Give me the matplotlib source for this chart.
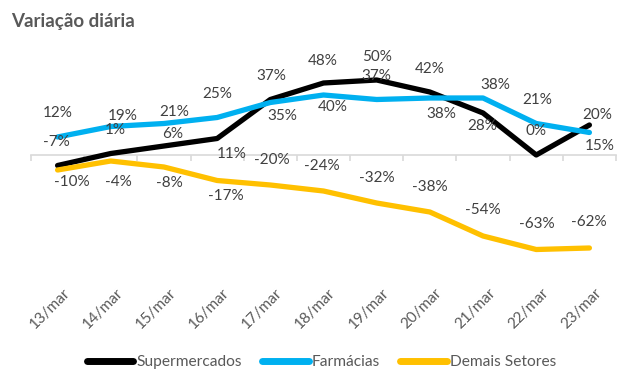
import matplotlib
matplotlib.use("Agg")
import matplotlib.pyplot as plt
import matplotlib.transforms as mtransforms
import numpy as np

plt.rcParams['font.family'] = ['Lato', 'DejaVu Sans']

dates = ["13/mar", "14/mar", "15/mar", "16/mar", "17/mar", "18/mar",
         "19/mar", "20/mar", "21/mar", "22/mar", "23/mar"]
supermercados = [-7, 1, 6, 11, 37, 48, 50, 42, 28, 0, 20]
farmacias = [12, 19, 21, 25, 35, 40, 37, 38, 38, 21, 15]
demais = [-10, -4, -8, -17, -20, -24, -32, -38, -54, -63, -62]

# label offsets in pixels (dx, dy up)
off_sup = [(-1, 24), (5, 24), (9, 12), (15, -15), (1, 23), (-1, 22), (0, 23),
           (0, 23), (-1, -13), (0, 24), (8, 10)]
off_far = [(0, 24), (12, 11), (10, 11), (0, 23), (12, -14), (9, -12), (0, 23),
           (11, -16), (12, 13), (1, 24), (10, -13)]
off_dem = [(14, -12), (8, -21), (5, -16), (9, -15), (1, 25), (-2, 25), (0, 25),
           (0, 25), (0, 26), (1, 26), (-1, 26)]

W, H = 639, 391
fig = plt.figure(figsize=(W / 100, H / 100), dpi=100)
ax = fig.add_axes([31 / W, (H - 275) / H, 585 / W, 210 / H])

x = np.arange(len(dates))
series = [
    ("Supermercados", supermercados, "#000000", off_sup),
    ("Farmácias", farmacias, "#00B0F0", off_far),
    ("Demais Setores", demais, "#FFC000", off_dem),
]
for name, vals, col, offs in series:
    ax.plot(x, vals, color=col, lw=3.8, solid_capstyle='round',
            solid_joinstyle='round', label=name, zorder=3)
for name, vals, col, offs in series:
    for xi, v, (dx, dy) in zip(x, vals, offs):
        ax.annotate(f"{v}%", (xi, v), xytext=(dx, dy), textcoords='offset pixels',
                    ha='center', va='center', fontsize=11, color='#404040', zorder=4)

ax.set_xlim(-0.5, len(dates) - 0.5)
ax.set_ylim(-80, 60)
for s in ['top', 'right', 'left']:
    ax.spines[s].set_visible(False)
ax.spines['bottom'].set_position(('data', 0))
ax.spines['bottom'].set_color('#D9D9D9')
ax.spines['bottom'].set_linewidth(1.2)
ax.set_yticks([])
ax.set_xticks(x)
ax.set_xticklabels([])
ax.set_xticks(np.arange(-0.5, len(dates)), minor=True)
ax.tick_params(axis='x', which='major', length=0)
ax.tick_params(axis='x', which='minor', length=4, color='#D9D9D9', width=1.2, direction='out')

secax = ax.secondary_xaxis(0.0)
secax.set_xticks(x)
secax.set_xticklabels(dates, rotation=45, ha='right', rotation_mode='anchor',
                      fontsize=11, color='#595959')
secax.tick_params(length=0, pad=8)
secax.spines['bottom'].set_visible(False)
shift = mtransforms.ScaledTranslation(5 / 100, 0, fig.dpi_scale_trans)
for lab in secax.get_xticklabels():
    lab.set_transform(lab.get_transform() + shift)

fig.text(11 / W, 1 - 21 / H, "Variação diária", fontsize=13.5, fontweight='bold',
         color='#595959', ha='left', va='center')

leg = fig.legend(loc='center', bbox_to_anchor=(0.503, (H - 362) / H), ncol=3, frameon=False,
                 fontsize=11.2, handlelength=3.0, handletextpad=0.2, columnspacing=1.3,
                 labelcolor='#595959')
for l in leg.get_lines():
    l.set_linewidth(5)
    l.set_solid_capstyle('round')

fig.savefig("out.png", dpi=100, facecolor='white')
